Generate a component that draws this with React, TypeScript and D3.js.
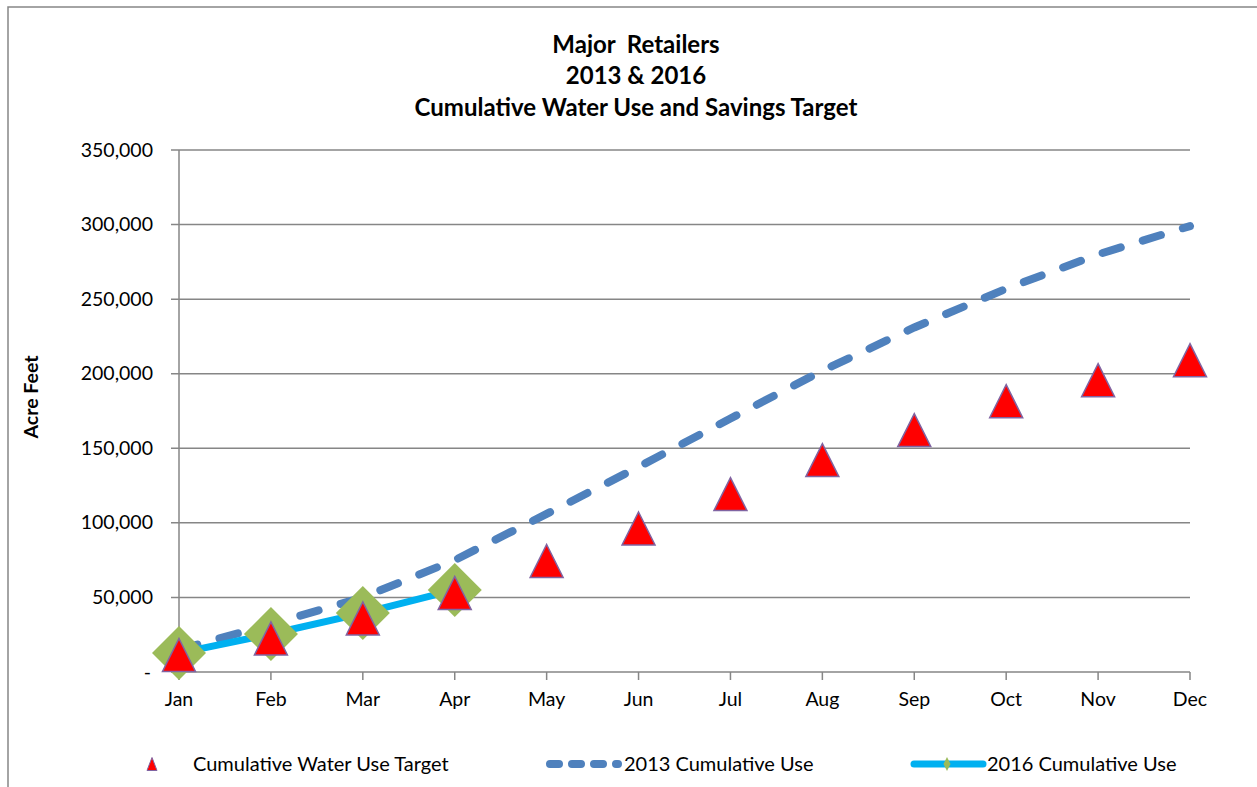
import React from 'react';
import * as d3 from 'd3';

const months = ['Jan', 'Feb', 'Mar', 'Apr', 'May', 'Jun', 'Jul', 'Aug', 'Sep', 'Oct', 'Nov', 'Dec'];
const targetValues = [11400, 22500, 35900, 53000, 74400, 96200, 119300, 142100, 162200, 181600, 195700, 209100];
const use2013 = [15000, 32000, 50000, 75000, 106000, 137500, 170000, 202000, 231000, 257000, 280000, 299000];
const use2016 = [12700, 25500, 39500, 55000];
const yTicks = [0, 50000, 100000, 150000, 200000, 250000, 300000, 350000];
const titleLines = ['Major  Retailers', '2013 & 2016', 'Cumulative Water Use and Savings Target'];

const FONT = 'Lato, "DejaVu Sans", sans-serif';

export default function App() {
    const width = 1257;
    const height = 787;
    const margin = { top: 150, right: 67, bottom: 115, left: 179 };

    const x = d3.scalePoint<string>().domain(months).range([margin.left, width - margin.right]);
    const y = d3.scaleLinear().domain([0, 350000]).range([height - margin.bottom, margin.top]);

    const lineGen = d3.line<number>()
        .x((d, i) => x(months[i]) as number)
        .y((d) => y(d));

    const fmt = d3.format(',');
    // excel style triangle marker, as wide as it is tall
    const triangle = (w: number, h: number) => `M0,${-h / 2}L${w / 2},${h / 2}L${-w / 2},${h / 2}Z`;
    const diamond = (w: number, h: number) => `M0,${-h / 2}L${w / 2},0L0,${h / 2}L${-w / 2},0Z`;

    const x0 = margin.left;
    const x1 = width - margin.right;
    const yBase = y(0);

    return (
        <svg width={width} height={height} style={{ position: 'absolute', left: 0, top: 0, background: '#fff' }}>
            {/* chart frame */}
            <rect x={8} y={7} width={1400} height={900} fill="#fff" stroke="#868686" strokeWidth={1.5} />

            {/* title */}
            {titleLines.map((t, i) => (
                <text key={t} x={636} y={52.5 + i * 31.5} textAnchor="middle" fontFamily={FONT}
                      fontWeight="bold" fontSize={24} fill="#000" style={{ whiteSpace: 'pre' }}>
                    {t}
                </text>
            ))}

            {/* grid lines */}
            {yTicks.filter((t) => t > 0).map((t) => (
                <line key={t} x1={x0 - 8} x2={x1} y1={y(t)} y2={y(t)} stroke="#868686" strokeWidth={1.5} />
            ))}
            {/* axes */}
            <line x1={x0 - 8} x2={x1} y1={yBase} y2={yBase} stroke="#868686" strokeWidth={1.5} />
            <line x1={x0} x2={x0} y1={y(350000)} y2={yBase} stroke="#868686" strokeWidth={1.5} />
            {months.map((m) => (
                <line key={m} x1={x(m)} x2={x(m)} y1={yBase} y2={yBase + 8} stroke="#868686" strokeWidth={1.5} />
            ))}

            {/* y tick labels */}
            {yTicks.map((t) => (
                <text key={t} x={t === 0 ? 151 : 153} y={y(t) + 6.5} textAnchor="end" fontFamily={FONT}
                      fontSize={19.5} fill="#000">
                    {t === 0 ? '-' : fmt(t)}
                </text>
            ))}
            {/* x tick labels */}
            {months.map((m) => (
                <text key={m} x={x(m)} y={706} textAnchor="middle" fontFamily={FONT} fontSize={19.5} fill="#000">
                    {m}
                </text>
            ))}

            {/* y axis title */}
            <text transform={`translate(38,${397}) rotate(-90)`} textAnchor="middle" fontFamily={FONT}
                  fontWeight="bold" fontSize={19.5} fill="#000">
                Acre Feet
            </text>

            {/* 2013 cumulative use */}
            <path d={lineGen(use2013) ?? ''} fill="none" stroke="#4F81BD" strokeWidth={8}
                  strokeDasharray="19 23" strokeLinecap="round" />

            {/* 2016 cumulative use */}
            <path d={lineGen(use2016) ?? ''} fill="none" stroke="#00B0F0" strokeWidth={7} strokeLinejoin="round" />
            {use2016.map((v, i) => (
                <path key={i} d={diamond(54, 54)} transform={`translate(${x(months[i])},${y(v)})`} fill="#9BBB59" />
            ))}

            {/* target */}
            {targetValues.map((v, i) => (
                <path key={i} d={triangle(33, 33)} transform={`translate(${x(months[i])},${y(v)})`}
                      fill="#FF0000" stroke="#8064A2" strokeWidth={1.5} />
            ))}

            {/* legend */}
            <path d={triangle(10, 13)} transform="translate(152,764)" fill="#FF0000" stroke="#8064A2" strokeWidth={1} />
            <text x={193} y={771} fontFamily={FONT} fontSize={20} fill="#000">Cumulative Water Use Target</text>

            <line x1={550} x2={618} y1={764} y2={764} stroke="#4F81BD" strokeWidth={8}
                  strokeDasharray="9 13" strokeLinecap="round" />
            <text x={624} y={771} fontFamily={FONT} fontSize={20} fill="#000">2013 Cumulative Use</text>

            <line x1={914} x2={983} y1={764} y2={764} stroke="#00B0F0" strokeWidth={7} strokeLinecap="round" />
            <path d={diamond(7, 14)} transform="translate(947,764)" fill="#9BBB59" />
            <text x={987} y={771} fontFamily={FONT} fontSize={20} fill="#000">2016 Cumulative Use</text>
        </svg>
    );
}
